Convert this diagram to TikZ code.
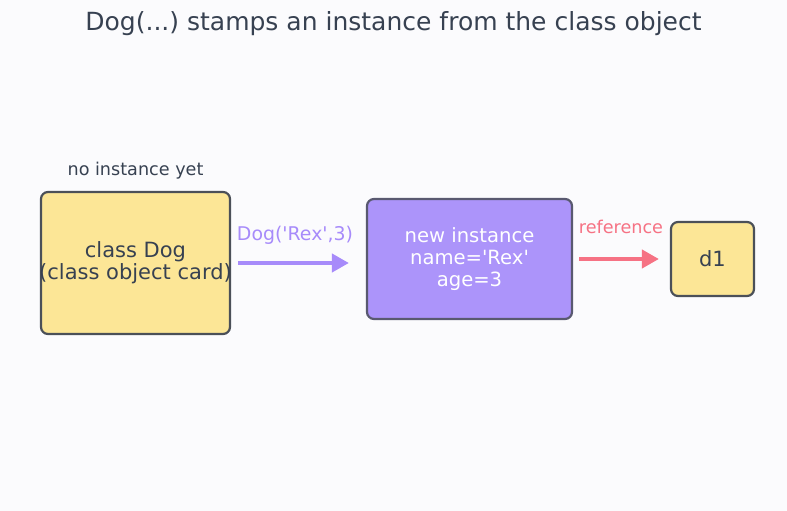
\documentclass[tikz,border=0pt]{standalone}
\usepackage{fontspec}
\setmainfont{DejaVu Sans}
\usepackage{xcolor}
\usetikzlibrary{arrows.meta,calc,positioning}
\definecolor{bgcol}{HTML}{FBFBFD}
\definecolor{inkcol}{HTML}{374151}
\definecolor{edgecol}{HTML}{4B5058}
\definecolor{cardcol}{HTML}{FCE696}
\definecolor{violetcol}{HTML}{A78BFA}
\definecolor{instcol}{HTML}{AC94FA}
\definecolor{rosecol}{HTML}{F67284}
\newcommand{\sq}{\textquotesingle}
\frenchspacing

\begin{document}
\begin{tikzpicture}[x=1pt, y=-1pt]
	\tikzstyle{card} = [draw = edgecol, line width = 2.2pt, rounded corners = 7pt, inner sep = 0pt, align = center, text = inkcol, font = \fontsize{21}{22}\selectfont]
	\tikzstyle{note} = [inner sep = 0pt, font = \fontsize{17.6}{20}\selectfont]
	\tikzstyle{link} = [line width = 4pt, -{Triangle[length = 17pt, width = 18pt]}]
\fill[bgcol] (0, 0) rectangle (787, 511);
\useasboundingbox (0, 0) rectangle (787, 511);
\node[inner sep = 0pt, text = inkcol, font = \fontsize{25}{28}\selectfont] (t) at (393.5, 24) {Dog(...) stamps an instance from the class object};
\node[card, fill = cardcol, minimum width = 189pt, minimum height = 142pt, label = {[align = center, text = inkcol, inner sep = 0pt, font = \fontsize{21}{22}\selectfont]center:class Dog\\(class object card)}] (0) at (135.5, 263) {};
\node[card, fill = instcol, draw = edgecol!85!violetcol, text = white, font = \fontsize{19.6}{22}\selectfont, minimum width = 205pt, minimum height = 120pt] (1) at (469.5, 259) {new instance\\name=\sq Rex\sq\\age=3};
\node[card, fill = cardcol, minimum width = 83pt, minimum height = 74pt] (2) at (712.5, 259) {d1};
\node[note, text = inkcol] (3) at (135.5, 171) {no instance yet};
\node[note, text = violetcol, font = \fontsize{18.9}{20}\selectfont] (4) at (295, 235) {Dog(\sq Rex\sq,3)};
\node[note, text = rosecol] (5) at (621, 227) {reference};
	\path[draw, link, violetcol, shorten < = 7pt, shorten > = 17pt] (0.east) -- (0.east -| 1.west);
	\path[draw, link, rosecol, shorten < = 6pt, shorten > = 11pt] (1.east) -- (2.west);
	\end{tikzpicture}
\end{document}
